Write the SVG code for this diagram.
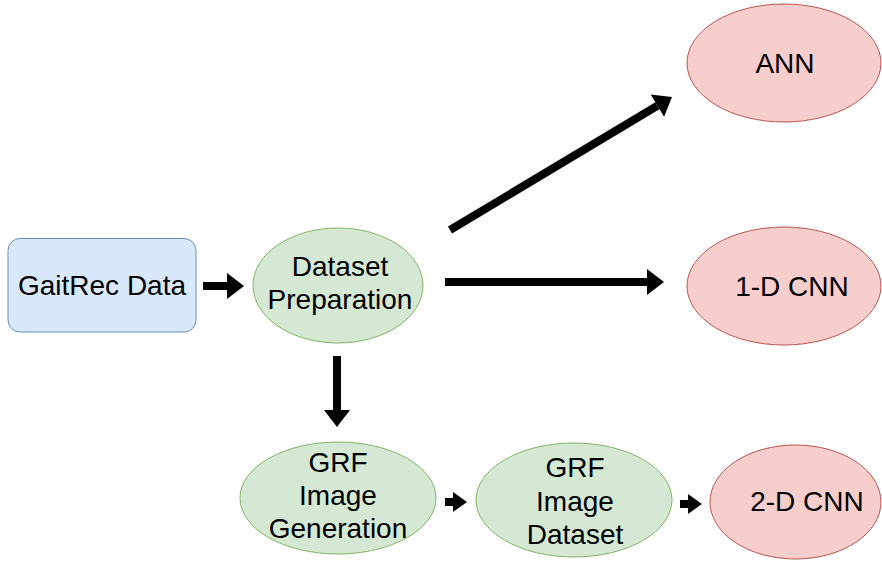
<svg xmlns="http://www.w3.org/2000/svg" width="882" height="561" viewBox="0 0 882 561">
<style>
.t{font-family:"Liberation Sans",Arial,sans-serif;font-size:28px;fill:#000;text-anchor:middle;dominant-baseline:central}
.blue{fill:#dae8fc;stroke:#6c8ebf;stroke-width:1}
.green{fill:#d5e8d4;stroke:#82b366;stroke-width:1}
.red{fill:#f8cecc;stroke:#b85450;stroke-width:1}
.c{stroke:#000;stroke-width:8;fill:none}
</style>
<defs>
<marker id="ah" markerUnits="userSpaceOnUse" markerWidth="17" markerHeight="26" refX="0" refY="13" orient="auto" viewBox="0 0 17 26" overflow="visible"><path d="M0,0 L17,13 L0,26 Z" fill="#000"/></marker>
<marker id="as" markerUnits="userSpaceOnUse" markerWidth="14" markerHeight="20" refX="0" refY="10" orient="auto" viewBox="0 0 14 20" overflow="visible"><path d="M0,0 L14,10 L0,20 Z" fill="#000"/></marker>
</defs>
<rect width="882" height="561" fill="#fff"/>
<g id="connectors">
<line class="c" x1="203" y1="286" x2="227" y2="286" marker-end="url(#ah)"/>
<line class="c" x1="450" y1="230" x2="657.4" y2="105.7" marker-end="url(#ah)"/>
<line class="c" x1="445" y1="282" x2="647" y2="282" marker-end="url(#ah)"/>
<line class="c" x1="337" y1="356" x2="337" y2="410" marker-end="url(#ah)"/>
<line class="c" x1="445" y1="502" x2="453" y2="502" marker-end="url(#as)"/>
<line class="c" x1="680" y1="504" x2="688" y2="504" marker-end="url(#as)"/>
</g>
<g id="gaitrec">
<rect class="blue" x="8" y="238.5" width="188" height="93.5" rx="12" ry="12"/>
<text class="t" x="102" y="285">GaitRec Data</text>
</g>
<g id="dataset-preparation">
<ellipse class="green" cx="338" cy="285.5" rx="85" ry="57.5"/>
<text class="t" x="340" y="266">Dataset</text>
<text class="t" x="340" y="299">Preparation</text>
</g>
<g id="ann">
<ellipse class="red" cx="784" cy="63" rx="97" ry="59"/>
<text class="t" x="785" y="63">ANN</text>
</g>
<g id="cnn1d">
<ellipse class="red" cx="784" cy="286" rx="97" ry="59"/>
<text class="t" x="792" y="286">1-D CNN</text>
</g>
<g id="grf-image-generation">
<ellipse class="green" cx="338" cy="498" rx="98" ry="56"/>
<text class="t" x="338" y="462">GRF</text>
<text class="t" x="338" y="495">Image</text>
<text class="t" x="338" y="528">Generation</text>
</g>
<g id="grf-image-dataset">
<ellipse class="green" cx="574" cy="500" rx="98" ry="57"/>
<text class="t" x="575" y="467">GRF</text>
<text class="t" x="575" y="501">Image</text>
<text class="t" x="575" y="534">Dataset</text>
</g>
<g id="cnn2d">
<ellipse class="red" cx="795.5" cy="502" rx="85.5" ry="57"/>
<text class="t" x="807" y="501">2-D CNN</text>
</g>
</svg>
